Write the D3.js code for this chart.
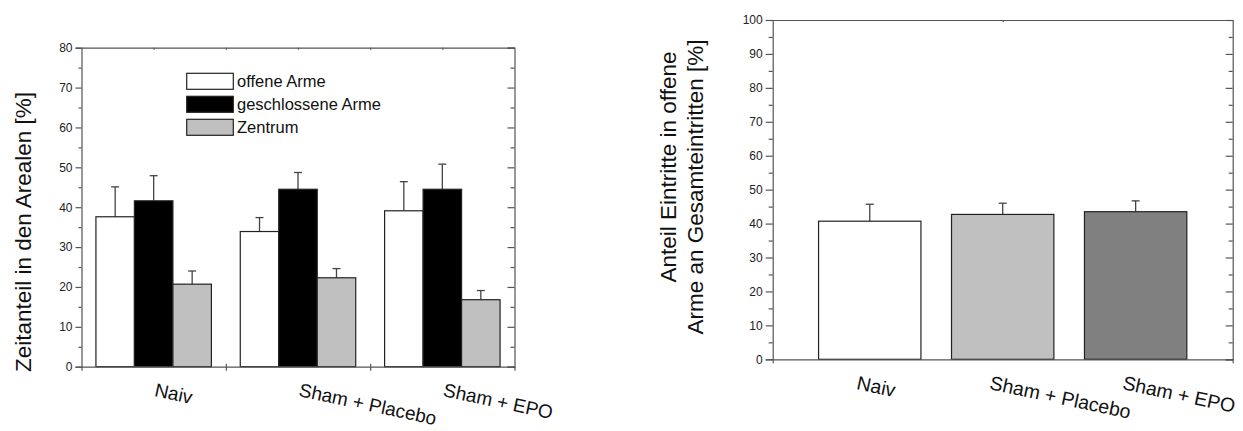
<!DOCTYPE html>
<html><head><meta charset="utf-8">
<script src="https://cdn.jsdelivr.net/npm/d3@7"></script>
<style>
body{margin:0;background:#fff;}
svg{display:block;font-family:"Liberation Sans",Arial,sans-serif;}
.ax path,.ax line{stroke:#555;stroke-width:1.2;}
.ax text{fill:#222;font-size:12px;}
</style></head>
<body>
<svg id="c" width="1243" height="431"></svg>
<script>
// ---- Data ----
const categories = ["Naiv", "Sham + Placebo", "Sham + EPO"];
const seriesNames = ["offene Arme", "geschlossene Arme", "Zentrum"];
const offeneArme = [37.6, 33.9, 39.1];
const offeneArmeErr = [7.5, 3.5, 7.3];
const geschlosseneArme = [41.6, 44.5, 44.5];
const geschlosseneArmeErr = [6.3, 4.2, 6.3];
const zentrum = [20.7, 22.3, 16.8];
const zentrumErr = [3.3, 2.3, 2.3];
const eintritte = [40.7, 42.7, 43.5];
const eintritteErr = [5.0, 3.3, 3.2];
const leftTicks = [0, 10, 20, 30, 40, 50, 60, 70, 80];
const rightTicks = [0, 10, 20, 30, 40, 50, 60, 70, 80, 90, 100];

const svg = d3.select("#c");

// ================= LEFT CHART =================
const xL = d3.scaleLinear().domain([0.5, 3.5]).range([81.5, 514.5]);
const yL = d3.scaleLinear().domain([0, 80]).range([366.7, 47.7]);
const gL = svg.append("g");
const series = [
  {vals: offeneArme, err: offeneArmeErr, fill: "#ffffff"},
  {vals: geschlosseneArme, err: geschlosseneArmeErr, fill: "#000000"},
  {vals: zentrum, err: zentrumErr, fill: "#c0c0c0"}
];
const bw = 0.8 / 3;
series.forEach((s, si) => {
  const off = (si - 1) * bw;
  s.vals.forEach((v, i) => {
    const cx = xL(i + 1 + off);
    gL.append("line").attr("x1", cx).attr("x2", cx).attr("y1", yL(v)).attr("y2", yL(v + s.err[i]))
      .attr("stroke", "#444").attr("stroke-width", 1.3);
    gL.append("line").attr("x1", cx - 4).attr("x2", cx + 4).attr("y1", yL(v + s.err[i])).attr("y2", yL(v + s.err[i]))
      .attr("stroke", "#444").attr("stroke-width", 1.3);
  });
  gL.selectAll(null).data(s.vals).enter().append("rect")
    .attr("x", (d, i) => xL(i + 1 + off - bw / 2))
    .attr("width", xL(bw) - xL(0))
    .attr("y", d => yL(d))
    .attr("height", d => yL(0) - yL(d))
    .attr("fill", s.fill).attr("stroke", "#222").attr("stroke-width", 1.2);
});
gL.append("g").attr("class", "ax").attr("transform", `translate(${xL(0.5)},0)`)
  .call(d3.axisLeft(yL).tickValues(leftTicks).tickSize(6).tickPadding(3).tickFormat(d3.format("d")));
gL.append("g").attr("class", "ax").attr("transform", `translate(${xL(0.5)},0)`)
  .call(d3.axisLeft(yL).tickValues(d3.range(5, 80, 10)).tickSize(3).tickFormat("")).select(".domain").remove();
gL.append("g").attr("class", "ax").attr("transform", `translate(${xL(3.5)},0)`)
  .call(d3.axisLeft(yL).tickValues(leftTicks).tickSize(7).tickFormat(""));
gL.append("g").attr("class", "ax").attr("transform", `translate(${xL(3.5)},0)`)
  .call(d3.axisLeft(yL).tickValues(d3.range(5, 80, 10)).tickSize(4).tickFormat("")).select(".domain").remove();
gL.append("g").attr("class", "ax").attr("transform", `translate(0,${yL(80)})`)
  .call(d3.axisBottom(xL).tickValues([1, 1.5, 2, 2.5, 3]).tickSize(2).tickSizeOuter(0).tickFormat(""));
gL.append("g").attr("class", "ax").attr("transform", `translate(0,${yL(0)})`)
  .call(d3.axisBottom(xL).tickValues([0.5, 1.5, 2.5, 3.5]).tickSize(4).tickSizeOuter(0).tickFormat(""));
gL.append("g").attr("class", "ax").attr("transform", `translate(0,${yL(0)})`)
  .call(d3.axisTop(xL).tickValues([1.5, 2.5]).tickSize(3).tickSizeOuter(0).tickFormat("")).select(".domain").remove();
categories.forEach((c, i) => {
  gL.append("text").attr("transform", `translate(${xL(i + 1)},396) rotate(12)`)
    .attr("font-size", 19).attr("fill", "#111").text(c);
});
const legendG = gL.append("g");
seriesNames.forEach((n, i) => {
  const yy = 73.3 + i * 23;
  legendG.append("rect").attr("x", 186.7).attr("y", yy).attr("width", 46.6).attr("height", 16)
    .attr("fill", series[i].fill).attr("stroke", "#222").attr("stroke-width", 1.2);
  legendG.append("text").attr("x", 237).attr("y", yy + 14).attr("font-size", 16.5).attr("fill", "#111").text(n);
});
gL.append("text").attr("transform", "translate(31,232) rotate(-90)").attr("text-anchor", "middle")
  .attr("font-size", 22.5).attr("fill", "#111").text("Zeitanteil in den Arealen [%]");

// ================= RIGHT CHART =================
const xR = d3.scaleLinear().domain([0.27, 3.73]).range([772.7, 1232.7]);
const yR = d3.scaleLinear().domain([0, 100]).range([359.3, 20]);
const gR = svg.append("g");
const fillsR = ["#ffffff", "#c0c0c0", "#808080"];
const bwR = 0.77;
eintritte.forEach((v, i) => {
  const cx = xR(i + 1);
  gR.append("line").attr("x1", cx).attr("x2", cx).attr("y1", yR(v)).attr("y2", yR(v + eintritteErr[i]))
    .attr("stroke", "#444").attr("stroke-width", 1.3);
  gR.append("line").attr("x1", cx - 4).attr("x2", cx + 4).attr("y1", yR(v + eintritteErr[i])).attr("y2", yR(v + eintritteErr[i]))
    .attr("stroke", "#444").attr("stroke-width", 1.3);
});
gR.selectAll(null).data(eintritte).enter().append("rect")
  .attr("x", (d, i) => xR(i + 1 - bwR / 2))
  .attr("width", xR(bwR) - xR(0))
  .attr("y", d => yR(d))
  .attr("height", d => yR(0) - yR(d))
  .attr("fill", (d, i) => fillsR[i]).attr("stroke", "#222").attr("stroke-width", 1.2);
gR.append("g").attr("class", "ax").attr("transform", `translate(${xR(0.27)},0)`)
  .call(d3.axisLeft(yR).tickValues(rightTicks).tickSize(7).tickPadding(3).tickFormat(d3.format("d")));
gR.append("g").attr("class", "ax").attr("transform", `translate(${xR(0.27)},0)`)
  .call(d3.axisLeft(yR).tickValues(d3.range(5, 100, 10)).tickSize(4).tickFormat("")).select(".domain").remove();
gR.append("g").attr("class", "ax").attr("transform", `translate(${xR(3.73)},0)`)
  .call(d3.axisLeft(yR).tickValues(rightTicks).tickSize(7).tickFormat(""));
gR.append("g").attr("class", "ax").attr("transform", `translate(${xR(3.73)},0)`)
  .call(d3.axisLeft(yR).tickValues(d3.range(5, 100, 10)).tickSize(4).tickFormat("")).select(".domain").remove();
gR.append("g").attr("class", "ax").attr("transform", `translate(0,${yR(100)})`)
  .call(d3.axisBottom(xR).tickValues([2]).tickSize(2).tickSizeOuter(0).tickFormat(""));
gR.append("g").attr("class", "ax").attr("transform", `translate(0,${yR(0)})`)
  .call(d3.axisBottom(xR).tickValues([0.27, 3.73]).tickSize(4).tickSizeOuter(0).tickFormat(""));
categories.forEach((c, i) => {
  gR.append("text").attr("transform", `translate(${xR(i + 1) - 14},389) rotate(12)`)
    .attr("font-size", 19.5).attr("fill", "#111").text(c);
});
gR.append("text").attr("transform", "translate(676,167) rotate(-90)").attr("text-anchor", "middle")
  .attr("font-size", 22.5).attr("fill", "#111").text("Anteil Eintritte in offene");
gR.append("text").attr("transform", "translate(703,187) rotate(-90)").attr("text-anchor", "middle")
  .attr("font-size", 22.5).attr("fill", "#111").text("Arme an Gesamteintritten [%]");
</script>
</body></html>
